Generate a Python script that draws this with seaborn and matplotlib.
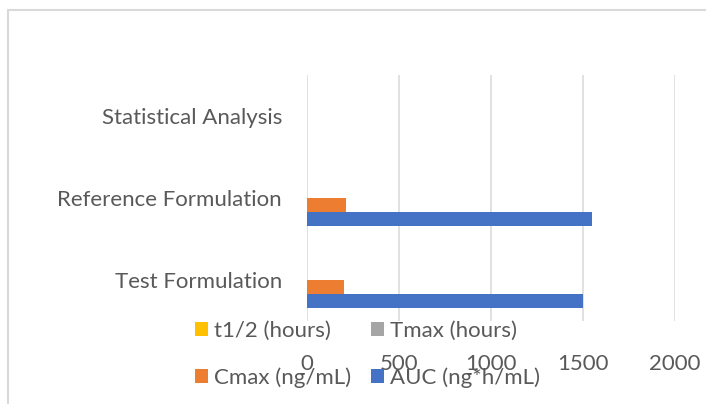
import matplotlib
matplotlib.use("Agg")
import matplotlib.pyplot as plt
from matplotlib.patches import Patch, Rectangle
import pandas as pd
import seaborn as sns

# Pharmacokinetic parameters per formulation
categories = ["Test Formulation", "Reference Formulation", "Statistical Analysis"]
auc = [1500, 1550, 0]          # AUC (ng*h/mL)
cmax = [200, 210, 0]           # Cmax (ng/mL)
tmax = [0, 0, 0]               # Tmax (hours)
t_half = [0, 0, 0]             # t1/2 (hours)

series_names = ["t1/2 (hours)", "Tmax (hours)", "Cmax (ng/mL)", "AUC (ng*h/mL)"]
series_values = [t_half, tmax, cmax, auc]
series_colors = ["#FFC000", "#A5A5A5", "#ED7D31", "#4472C4"]
x_ticks = [0, 500, 1000, 1500, 2000]

rows = []
for name, vals in zip(series_names, series_values):
    for cat, v in zip(categories, vals):
        rows.append({"category": cat, "metric": name, "value": v})
df = pd.DataFrame(rows)

sns.set_style("white")
plt.rcParams["font.family"] = ["Lato", "DejaVu Sans"]
text_color = "#595959"
grid_color = "#D9D9D9"
fs = 16

W, H = 706, 404
fig = plt.figure(figsize=(W / 100, H / 100), dpi=100)
fig.patch.set_facecolor("white")

# plot area in pixel coordinates
x0, x1 = 307, 674.7
y_top, y_bot = 75, 321
ax = fig.add_axes([x0 / W, 1 - y_bot / H, (x1 - x0) / W, (y_bot - y_top) / H])

palette = dict(zip(series_names, series_colors))
sns.barplot(
    data=df, y="category", x="value", hue="metric",
    order=categories[::-1], hue_order=series_names,
    palette=palette, orient="h", width=0.683, gap=0,
    dodge=True, legend=False, ax=ax, saturation=1, linewidth=0,
)

ax.set_xlim(0, 2000)
ax.set_xticks(x_ticks)
ax.set_xticklabels([str(t) for t in x_ticks])
ax.set_axisbelow(True)
ax.grid(axis="x", color=grid_color, linewidth=1.1)
ax.grid(axis="y", visible=False)
for s in ax.spines.values():
    s.set_visible(False)
ax.set_xlabel("")
ax.set_ylabel("")
ax.tick_params(axis="x", length=0, pad=24, labelsize=fs, labelcolor=text_color)
ax.tick_params(axis="y", length=0, pad=18, labelsize=fs, labelcolor=text_color)

# legend laid out in two rows below the plot area
handles = [Patch(facecolor=c, edgecolor="none") for c in series_colors]
order = [0, 2, 1, 3]
fig.legend(
    [handles[i] for i in order], [series_names[i] for i in order],
    loc="upper left", bbox_to_anchor=(195 / W, 1 - 321 / H),
    bbox_transform=fig.transFigure, ncol=2, frameon=False,
    fontsize=fs, labelcolor=text_color,
    handlelength=0.6, handleheight=0.6, handletextpad=0.25,
    columnspacing=0.9, labelspacing=1.2, borderpad=0, borderaxespad=0,
)

# chart frame
fig.patches.append(Rectangle((8 / W, -0.2), 2, 1.2 - 10 / H, transform=fig.transFigure,
                             fill=False, edgecolor=grid_color, linewidth=1.5))

fig.savefig("out.png", dpi=100)
